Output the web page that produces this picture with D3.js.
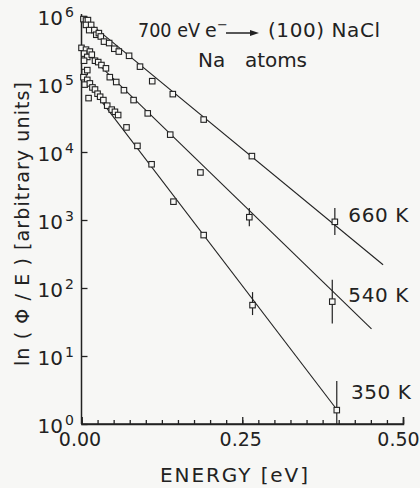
<!DOCTYPE html>
<html>
<head>
<meta charset="utf-8">
<script src="https://cdn.jsdelivr.net/npm/d3@7"></script>
<style>
  body { margin: 0; background: #f7f7f5; }
  svg { display: block; }
  text { font-family: "DejaVu Sans", sans-serif; fill: #222; }
</style>
</head>
<body>
<div id="graph"></div>
<script>
let w = 420;
let h = 488;

// data: [energy eV, phi/E]
let points660 = [
  [0.003, 9.0e5], [0.007, 8.6e5], [0.010, 8.7e5], [0.007, 7.4e5], [0.015, 7.4e5],
  [0.012, 6.2e5], [0.020, 6.2e5], [0.023, 5.3e5], [0.027, 5.6e5], [0.030, 5.0e5],
  [0.035, 4.2e5], [0.043, 4.0e5], [0.051, 3.3e5], [0.058, 3.0e5], [0.074, 2.6e5],
  [0.091, 1.8e5], [0.110, 1.1e5], [0.142, 7.1e4], [0.190, 3.0e4], [0.265, 8.7e3],
  [0.394, 9.4e2]
];
let points540 = [
  [0.000, 3.4e5], [0.007, 3.2e5], [0.013, 3.0e5], [0.004, 2.8e5], [0.009, 2.5e5],
  [0.016, 2.7e5], [0.021, 2.2e5], [0.004, 2.2e5], [0.026, 2.1e5], [0.031, 1.9e5],
  [0.038, 1.7e5], [0.044, 1.26e5], [0.054, 1.07e5], [0.066, 8.1e4], [0.081, 5.8e4],
  [0.103, 3.7e4], [0.138, 1.8e4], [0.185, 5.0e3], [0.261, 1.1e3], [0.390, 63]
];
let points350 = [
  [0.005, 1.5e5], [0.009, 1.6e5], [0.003, 1.26e5], [0.009, 1.15e5], [0.005, 9.8e4],
  [0.013, 1.02e5], [0.017, 8.9e4], [0.011, 6.2e4], [0.021, 8.3e4], [0.025, 7.2e4],
  [0.029, 6.5e4], [0.034, 5.8e4], [0.040, 4.8e4], [0.047, 4.2e4], [0.052, 3.9e4],
  [0.057, 3.5e4], [0.070, 2.3e4], [0.087, 1.23e4], [0.109, 6.6e3], [0.143, 1.86e3],
  [0.190, 6.0e2], [0.266, 56], [0.397, 1.6]
];

// error bars: [energy, low, high]
let errors660 = [[0.394, 6.0e2, 1.5e3]];
let errors540 = [[0.261, 8.1e2, 1.5e3], [0.390, 30, 132]];
let errors350 = [[0.266, 40, 87], [0.397, 1, 4.3]];

// fitted straight lines: start and end
let fit660 = [[0, 9.8e5], [0.469, 220]];
let fit540 = [[0, 3.4e5], [0.451, 25]];
let fit350 = [[0, 1.35e5], [0.400, 1.5]];

let seriesLabels = ["660 K", "540 K", "350 K"];
let labelPos = [[0.415, 10 ** 2.97], [0.415, 10 ** 1.80], [0.419, 10 ** 0.37]];

let xMajorTicks = [0, 0.25, 0.5];
let xMinorTicks = d3.range(0, 0.5001, 0.025);
let xTickLabels = ["0.00", "0.25", "0.50"];
let yTicks = [1, 10, 100, 1e3, 1e4, 1e5, 1e6];
let yExponents = ["0", "1", "2", "3", "4", "5", "6"];

let ink = "#222";
let bg = "#f7f7f5";

let xScale = d3.scaleLinear().domain([0, 0.5]).range([81.5, 403]);
let yScale = d3.scaleLog().domain([1, 1e6]).range([424, 16]);

let viz = d3.select("#graph")
  .append("svg")
    .attr("width", w)
    .attr("height", h)
;

// x axis, ticks pointing inward
let xMinorAxis = d3.axisBottom(xScale).tickValues(xMinorTicks).tickSize(-4).tickFormat("");
let xMinorGroup = viz.append("g").attr("class", "xaxis-minor")
  .attr("transform", "translate(0," + yScale(1) + ")")
  .call(xMinorAxis);

let xAxis = d3.axisBottom(xScale).tickValues(xMajorTicks).tickSize(-7).tickPadding(12)
  .tickFormat(function(d, i){ return xTickLabels[i]; });
let xAxisGroup = viz.append("g").attr("class", "xaxis")
  .attr("transform", "translate(0," + yScale(1) + ")")
  .call(xAxis);
xAxisGroup.selectAll("text")
  .attr("font-size", 19)
  .attr("font-family", "DejaVu Sans")
  .attr("fill", ink)
  .attr("dx", function(d){ return d === 0.5 ? -5 : -2; })
  .attr("dy", "0.55em");

// y axis
let yAxis = d3.axisLeft(yScale).tickValues(yTicks).tickSize(-6).tickFormat("");
let yAxisGroup = viz.append("g").attr("class", "yaxis")
  .attr("transform", "translate(" + xScale(0) + ",0)")
  .call(yAxis);

viz.selectAll(".domain").attr("stroke", ink).attr("stroke-width", 1.5);
viz.selectAll(".tick line").attr("stroke", ink).attr("stroke-width", 1.3);
xMinorGroup.select(".domain").attr("d", "M" + xScale(0) + ",0H" + xScale(0.5));
yAxisGroup.select(".domain").attr("d", "M0," + (yScale(1e6) - 2) + "V" + yScale(1));

let yLabels = viz.append("g").attr("class", "ylabels");
yTicks.forEach(function(v, i){
  yLabels.append("text")
    .attr("x", 63)
    .attr("y", yScale(v) + 9)
    .attr("text-anchor", "end")
    .attr("font-size", 20)
    .text("10");
  yLabels.append("text")
    .attr("x", 65)
    .attr("y", yScale(v) + 1)
    .attr("font-size", 14)
    .text(yExponents[i]);
});

// axis titles
viz.append("text")
  .attr("x", 160)
  .attr("y", 482)
  .attr("font-size", 20)
  .attr("textLength", 148)
  .attr("lengthAdjust", "spacing")
  .text("ENERGY [eV]");

viz.append("text")
  .attr("transform", "translate(29,366) rotate(-90)")
  .attr("font-size", 19)
  .attr("textLength", 284)
  .attr("lengthAdjust", "spacing")
  .text("ln ( \u03A6 / E ) [arbitrary units]");

// fit lines
let line = d3.line()
  .x(function(d){ return xScale(d[0]); })
  .y(function(d){ return yScale(d[1]); });

let fits = [fit660, fit540, fit350];
viz.append("g").attr("class", "fits")
  .selectAll("path").data(fits).enter()
  .append("path")
    .attr("d", line)
    .attr("fill", "none")
    .attr("stroke", ink)
    .attr("stroke-width", 1.1)
;

// error bars
let allErrors = errors660.concat(errors540).concat(errors350);
viz.append("g").attr("class", "errors")
  .selectAll("line").data(allErrors).enter()
  .append("line")
    .attr("x1", function(d){ return xScale(d[0]); })
    .attr("x2", function(d){ return xScale(d[0]); })
    .attr("y1", function(d){ return yScale(d[1]); })
    .attr("y2", function(d){ return yScale(d[2]); })
    .attr("stroke", ink)
    .attr("stroke-width", 1.2)
;

// points
let allPoints = points660.concat(points540).concat(points350);
let s = 5.5;
viz.append("g").attr("class", "points")
  .selectAll("rect").data(allPoints).enter()
  .append("rect")
    .attr("x", function(d){ return xScale(d[0]) - s / 2; })
    .attr("y", function(d){ return yScale(d[1]) - s / 2; })
    .attr("width", s)
    .attr("height", s)
    .attr("fill", bg)
    .attr("stroke", ink)
    .attr("stroke-width", 1.1)
;

// series labels
viz.append("g").attr("class", "serieslabels")
  .selectAll("text").data(seriesLabels).enter()
  .append("text")
    .attr("x", function(d, i){ return xScale(labelPos[i][0]); })
    .attr("y", function(d, i){ return yScale(labelPos[i][1]); })
    .attr("font-size", 20)
    .attr("textLength", 60)
    .attr("lengthAdjust", "spacing")
    .text(function(d){ return d; })
;

// title block
let title = viz.append("g").attr("class", "title");
title.append("text")
  .attr("x", 138).attr("y", 37)
  .attr("font-size", 19)
  .attr("textLength", 62)
  .attr("lengthAdjust", "spacingAndGlyphs")
  .text("700 eV");
title.append("text")
  .attr("x", 205).attr("y", 37)
  .attr("font-size", 19)
  .text("e");
title.append("text")
  .attr("x", 217).attr("y", 29)
  .attr("font-size", 13)
  .text("\u2212");
title.append("line")
  .attr("x1", 226).attr("x2", 252)
  .attr("y1", 33).attr("y2", 33)
  .attr("stroke", ink).attr("stroke-width", 1.5);
title.append("path")
  .attr("d", "M250,30L259,33L250,36Z")
  .attr("fill", ink);
title.append("text")
  .attr("x", 268).attr("y", 37)
  .attr("font-size", 20)
  .attr("textLength", 112)
  .attr("lengthAdjust", "spacing")
  .text("(100) NaCl");
title.append("text")
  .attr("x", 198).attr("y", 67)
  .attr("font-size", 20)
  .text("Na");
title.append("text")
  .attr("x", 245).attr("y", 67)
  .attr("font-size", 20)
  .attr("textLength", 62)
  .attr("lengthAdjust", "spacing")
  .text("atoms");
</script>
</body>
</html>
